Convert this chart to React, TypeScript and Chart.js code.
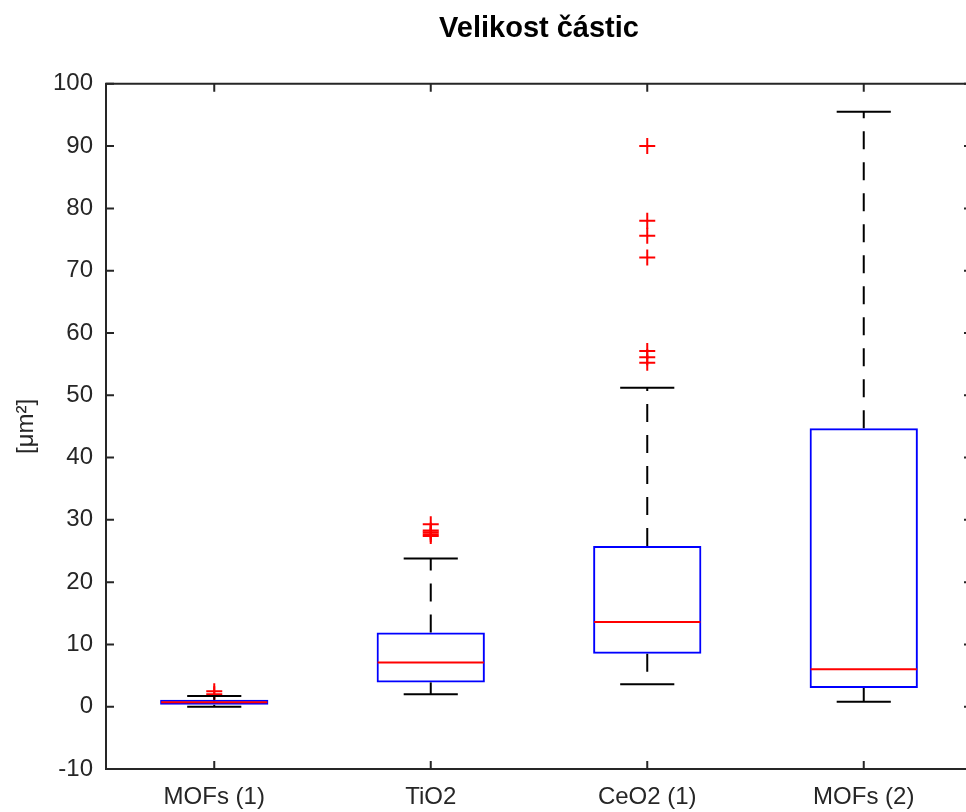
import { useEffect, useRef } from "react";
import { Chart, registerables } from "chart.js";

Chart.register(...registerables);

const categories = ["MOFs (1)", "TiO2", "CeO2 (1)", "MOFs (2)"];
const whiskerLow = [0.0, 2.0, 3.6, 0.8];
const q1 = [0.3, 3.9, 8.5, 3.0];
const median = [0.7, 7.1, 13.6, 6.0];
const q3 = [1.1, 11.9, 25.8, 44.7];
const whiskerHigh = [1.7, 23.8, 51.2, 95.5];
const outliersMOFs1 = [2.0, 2.5];
const outliersTiO2 = [27.4, 27.7, 28.0, 28.3, 29.3];
const outliersCeO2 = [55.2, 56.1, 57.1, 72.1, 75.6, 78.0, 90.0];
const outliersMOFs2: number[] = [];
const yMin = -10;
const yMax = 100;
const yStep = 10;

const FONT = "'Liberation Sans', Arial, Helvetica, sans-serif";
const AXIS = "#262626";

const outlierGroups = [outliersMOFs1, outliersTiO2, outliersCeO2, outliersMOFs2];

const matlabPlugin = {
  id: "matlabBox",
  afterDatasetsDraw(chart: any) {
    const ctx = chart.ctx;
    const x = chart.scales.x;
    const y = chart.scales.y;
    const step = x.getPixelForValue(1) - x.getPixelForValue(0);
    ctx.save();
    categories.forEach((_c, i) => {
      const cx = x.getPixelForValue(i);
      const capHalf = step * 0.125;
      const boxHalf = step * 0.25;
      ctx.strokeStyle = "#000";
      ctx.lineWidth = 2;
      ctx.setLineDash([18, 13]);
      ctx.beginPath();
      ctx.moveTo(cx, y.getPixelForValue(q3[i]));
      ctx.lineTo(cx, y.getPixelForValue(whiskerHigh[i]));
      ctx.stroke();
      ctx.beginPath();
      ctx.moveTo(cx, y.getPixelForValue(q1[i]));
      ctx.lineTo(cx, y.getPixelForValue(whiskerLow[i]));
      ctx.stroke();
      ctx.setLineDash([]);
      ctx.beginPath();
      const yh = y.getPixelForValue(whiskerHigh[i]);
      const yl = y.getPixelForValue(whiskerLow[i]);
      ctx.moveTo(cx - capHalf, yh);
      ctx.lineTo(cx + capHalf, yh);
      ctx.moveTo(cx - capHalf, yl);
      ctx.lineTo(cx + capHalf, yl);
      ctx.stroke();
      ctx.strokeStyle = "#ff0000";
      ctx.beginPath();
      const ym = y.getPixelForValue(median[i]);
      ctx.moveTo(cx - boxHalf + 1, ym);
      ctx.lineTo(cx + boxHalf - 1, ym);
      ctx.stroke();
    });
    ctx.restore();
  },
  afterDraw(chart: any) {
    const ctx = chart.ctx;
    const { left, right, top, bottom } = chart.chartArea;
    const x = chart.scales.x;
    const y = chart.scales.y;
    const tl = 8;
    ctx.save();
    ctx.strokeStyle = AXIS;
    ctx.lineWidth = 2;
    ctx.beginPath();
    ctx.rect(left, top, right - left, bottom - top);
    ctx.stroke();
    ctx.beginPath();
    for (let v = yMin; v <= yMax; v += yStep) {
      const py = y.getPixelForValue(v);
      ctx.moveTo(left, py);
      ctx.lineTo(left + tl, py);
      ctx.moveTo(right, py);
      ctx.lineTo(right - tl, py);
    }
    categories.forEach((_c, i) => {
      const px = x.getPixelForValue(i);
      ctx.moveTo(px, bottom);
      ctx.lineTo(px, bottom - tl);
      ctx.moveTo(px, top);
      ctx.lineTo(px, top + tl);
    });
    ctx.stroke();
    ctx.restore();
  },
};

export default function App() {
  const ref = useRef<HTMLCanvasElement | null>(null);
  useEffect(() => {
    if (!ref.current) return;
    const outlierPoints: { x: string; y: number }[] = [];
    outlierGroups.forEach((g, i) => g.forEach((v) => outlierPoints.push({ x: categories[i], y: v })));
    const chart = new Chart(ref.current, {
      type: "bar",
      data: {
        labels: categories,
        datasets: [
          {
            type: "bar",
            data: categories.map((_c, i) => [q1[i], q3[i]]),
            backgroundColor: "rgba(0,0,0,0)",
            borderColor: "#0000ff",
            borderWidth: 2,
            borderSkipped: false,
            barPercentage: 0.5,
            categoryPercentage: 1,
          } as any,
          {
            type: "line",
            data: outlierPoints as any,
            showLine: false,
            pointStyle: "cross",
            pointRadius: 8,
            pointBorderWidth: 2,
            pointBorderColor: "#ff0000",
            pointBackgroundColor: "#ff0000",
            borderColor: "#ff0000",
          } as any,
        ],
      },
      options: {
        responsive: false,
        animation: false,
        events: [],
        layout: { padding: { left: 0, right: 18, top: 0, bottom: 0 } },
        plugins: {
          legend: { display: false },
          tooltip: { enabled: false },
          title: {
            display: true,
            fullSize: false,
            text: "Velikost částic",
            color: "#000",
            font: { family: FONT, size: 29, weight: "bold" },
            padding: { top: 12, bottom: 37 },
          },
        },
        scales: {
          x: {
            type: "category",
            offset: true,
            grid: { display: false, drawTicks: false },
            border: { display: false },
            ticks: { color: AXIS, font: { family: FONT, size: 24 }, padding: 14, maxRotation: 0 },
            afterFit: (s: any) => {
              s.height = 43;
            },
          },
          y: {
            type: "linear",
            min: yMin,
            max: yMax,
            grid: { display: false, drawTicks: false },
            border: { display: false },
            ticks: { stepSize: yStep, color: AXIS, font: { family: FONT, size: 24 }, padding: 13 },
            title: {
              display: true,
              text: "[μm²]",
              color: AXIS,
              font: { family: FONT, size: 24 },
              padding: { top: 12, bottom: 0 },
            },
            afterFit: (s: any) => {
              s.width = 106;
            },
          },
        },
      },
      plugins: [matlabPlugin],
    });
    return () => chart.destroy();
  }, []);
  return (
    <div style={{ position: "fixed", left: 0, top: 0, width: 966, height: 812, overflow: "hidden", background: "#fff" }}>
      <canvas ref={ref} width={990} height={812} style={{ display: "block" }} />
    </div>
  );
}
